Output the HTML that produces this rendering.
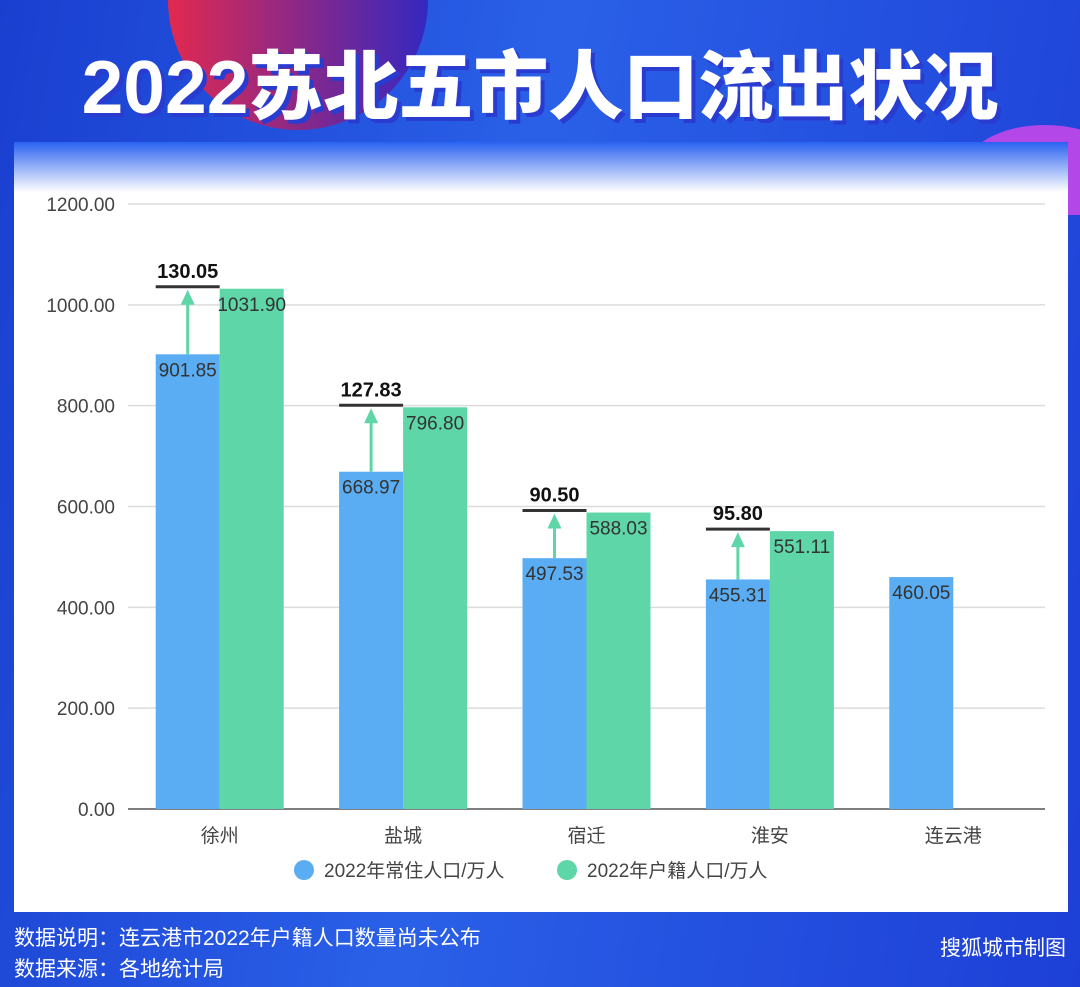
<!DOCTYPE html>
<html><head><meta charset="utf-8">
<style>
body{margin:0;width:1080px;height:987px;overflow:hidden;font-family:"Liberation Sans","Noto Sans CJK SC",sans-serif;}
#bg{position:absolute;left:0;top:0;width:1080px;height:987px;background:linear-gradient(100deg,#1a3fd0 0%,#2a60e8 45%,#1d3fd6 100%);overflow:hidden}
.t{position:absolute;color:#fff;font-size:21px}
</style></head><body>
<div id="bg">
<div style="position:absolute;left:168px;top:-130px;width:260px;height:260px;border-radius:50%;background:linear-gradient(90deg,#e2294f,#3428c0)"></div>
<div style="position:absolute;left:965px;top:125px;width:160px;height:90px;border-radius:50% 50% 0 0;background:#b447e8"></div>
<div style="position:absolute;left:0;width:1080px;top:26px;text-align:center;color:#fff;font-size:75px;font-weight:900;letter-spacing:0px;text-shadow:4px 4px 0 #2a3bd0;font-family:'Liberation Sans','Noto Sans CJK SC',sans-serif">2022苏北五市人口流出状况</div>
<div style="position:absolute;left:14px;top:142px;width:1054px;height:770px;background:linear-gradient(180deg,#2a62f0 0px,#fff 50px,#fff 100%)"></div>
<div class="t" style="left:14px;top:922px">数据说明：连云港市2022年户籍人口数量尚未公布</div>
<div class="t" style="left:14px;top:953px">数据来源：各地统计局</div>
<div class="t" style="right:14px;top:932px;font-size:21px">搜狐城市制图</div>
</div>
<svg id="c" width="1080" height="987" style="position:absolute;left:0;top:0" font-family="Liberation Sans,Noto Sans CJK SC,sans-serif"></svg>
<script>
const categories=["徐州","盐城","宿迁","淮安","连云港"];
const resident=[901.85,668.97,497.53,455.31,460.05];
const registered=[1031.90,796.80,588.03,551.11,null];
const ticks=[0,200,400,600,800,1000,1200];
const svg=document.getElementById('c');const NS='http://www.w3.org/2000/svg';
const x0=128,x1=1045,y0=809,y1=204,vmax=1200;
const y=v=>y0-(v/vmax)*(y0-y1);
const bw=(x1-x0)/categories.length;
const cx=i=>x0+bw*(i+0.5);
function el(t,a,txt){const e=document.createElementNS(NS,t);for(const k in a)e.setAttribute(k,a[k]);if(txt!=null)e.textContent=txt;svg.appendChild(e);return e;}
ticks.forEach(t=>{
const g=el('line',{x1:x0,x2:x1,y1:y(t),y2:y(t),stroke:t?'#dcdcdc':'#555','stroke-width':1.5});

const l=el('text',{x:115,y:y(t)+7,'text-anchor':'end','font-size':19,fill:'#444'},t.toFixed(2));

});
categories.forEach((c,i)=>{
const xc=cx(i);
const b=el('rect',{x:xc-64,y:y(resident[i]),width:64,height:y0-y(resident[i]),fill:'#5aadf2'});

const lb=el('text',{x:xc-32,y:y(resident[i])+22,'text-anchor':'middle','font-size':19,fill:'#333'},resident[i].toFixed(2));

if(registered[i]!=null){
const g=el('rect',{x:xc,y:y(registered[i]),width:64,height:y0-y(registered[i]),fill:'#5ed6a8'});

const lg=el('text',{x:xc+32,y:y(registered[i])+22,'text-anchor':'middle','font-size':19,fill:'#333'},registered[i].toFixed(2));

const ty=y(registered[i])-2;
const hl=el('line',{x1:xc-64,x2:xc,y1:ty,y2:ty,stroke:'#333','stroke-width':3});

const ar=el('line',{x1:xc-32,x2:xc-32,y1:y(resident[i]),y2:ty+14,stroke:'#5ed6a8','stroke-width':3});

const ah=el('polygon',{points:`${xc-39},${ty+18} ${xc-25},${ty+18} ${xc-32},${ty+3}`,fill:'#5ed6a8'});

const dv=el('text',{x:xc-32,y:ty-9,'text-anchor':'middle','font-size':20,'font-weight':'bold',fill:'#111'},(registered[i]-resident[i]).toFixed(2));

}
const cl=el('text',{x:xc,y:842,'text-anchor':'middle','font-size':19,fill:'#444'},c);

});
[[304,'#5aadf2','2022年常住人口/万人'],[567,'#5ed6a8','2022年户籍人口/万人']].forEach(([lx,col,txt])=>{
const c=el('circle',{cx:lx,cy:870,r:10,fill:col});

const t=el('text',{x:lx+20,y:877,'font-size':19,fill:'#444'},txt);

});
</script>
</body></html>
